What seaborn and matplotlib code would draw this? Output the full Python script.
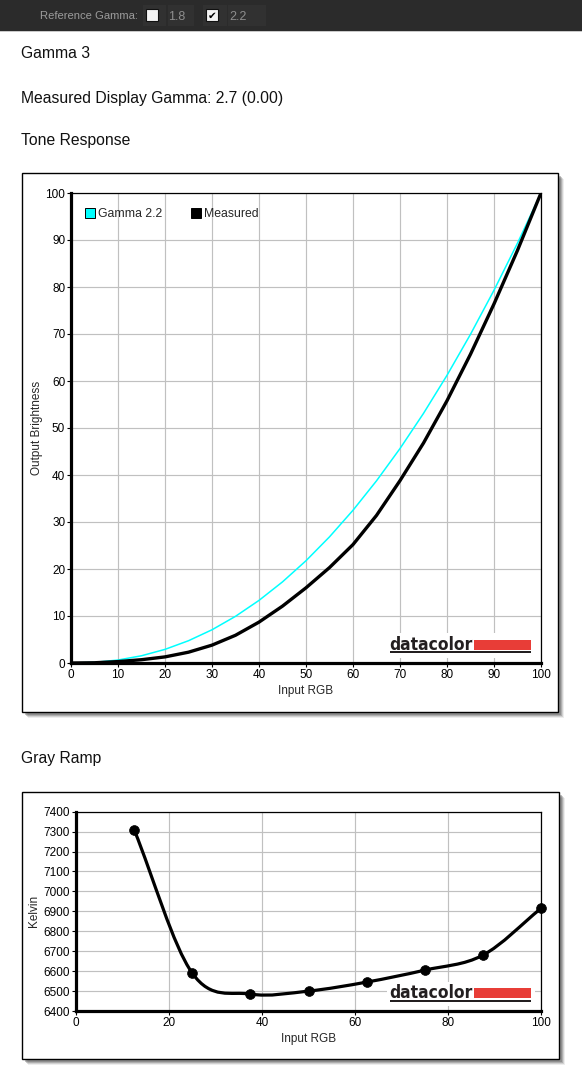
import numpy as np
import pandas as pd
import matplotlib
matplotlib.use("Agg")
import matplotlib.pyplot as plt
import seaborn as sns
from matplotlib.patches import Rectangle, PathPatch
from matplotlib.path import Path
from matplotlib.lines import Line2D

# ---------------- data ----------------
input_rgb = [0, 5, 10, 15, 20, 25, 30, 35, 40, 45, 50, 55, 60, 65, 70, 75, 80, 85, 90, 95, 100]
gamma22 = [0.0, 0.14, 0.63, 1.54, 2.90, 4.74, 7.07, 9.93, 13.32, 17.26, 21.76,
           26.84, 32.50, 38.76, 45.63, 53.11, 61.21, 69.94, 79.31, 89.33, 100.0]
measured = [0.0, 0.05, 0.3, 0.7, 1.3, 2.3, 3.8, 5.9, 8.7, 12.1, 16.0,
            20.3, 25.2, 31.4, 38.8, 46.8, 55.8, 65.7, 76.4, 87.8, 100.0]
ramp_rgb = [12.5, 25, 37.5, 50, 62.5, 75, 87.5, 100]
ramp_kelvin = [7310, 6590, 6485, 6500, 6545, 6605, 6680, 6915]
tone_ticks = list(range(0, 101, 10))
ramp_xticks = [0, 20, 40, 60, 80, 100]
ramp_yticks = list(range(6400, 7401, 100))
series_names = ["Gamma 2.2", "Measured"]
series_colors = ["#00ffff", "#000000"]

# ---------------- setup ----------------
W, H = 582, 1078
sns.set_theme(style="white")
plt.rcParams['font.family'] = ['Liberation Sans', 'DejaVu Sans']
fig = plt.figure(figsize=(W / 100, H / 100), dpi=100)
fig.patch.set_facecolor('white')


def frect(x0, y0, x1, y1, target=None, **kw):
    r = Rectangle((x0 / W, 1 - y1 / H), (x1 - x0) / W, (y1 - y0) / H,
                  transform=fig.transFigure, **kw)
    if target is None:
        fig.add_artist(r)
    else:
        r.set_clip_on(False)
        target.add_artist(r)
    return r


def ftext(x, y, s, target=None, **kw):
    if target is None:
        return fig.text(x / W, 1 - y / H, s, **kw)
    return target.text(x / W, 1 - y / H, s, transform=fig.transFigure, clip_on=False, **kw)


# top bar
frect(0, 0, W, 30.5, fc='#2b2b2b', ec='none', zorder=-5)
frect(0, 30.5, W, 32, fc='#c9c9c9', ec='none', zorder=-5)
for (a, b) in [(143, 166), (168, 194), (203, 227), (228, 266)]:
    frect(a, 5, b, 26, fc='#313131', ec='none', zorder=-4)
ftext(40, 16, "Reference Gamma:", color='#9b9b9b', fontsize=8.1, va='center', ha='left')
frect(146, 9.5, 157.5, 21, fc='#f4f4f4', ec='#111111', lw=0.8, zorder=-3)
frect(206, 9.5, 217.5, 21, fc='#f4f4f4', ec='#111111', lw=0.8, zorder=-3)
ftext(211.8, 15.4, "\u2714", color='black', fontsize=7.5, va='center', ha='center',
      family=['DejaVu Sans'])
ftext(168, 16.8, "1.8", color='#8e8e8e', fontsize=9, va='center', ha='left')
ftext(229, 16.8, "2.2", color='#8e8e8e', fontsize=9, va='center', ha='left')

# titles
for y, s in [(58.5, "Gamma 3"), (102.5, "Measured Display Gamma: 2.7 (0.00)"),
             (144.5, "Tone Response"), (762.5, "Gray Ramp")]:
    ftext(21, y, s, color='#111111', fontsize=11.3, va='baseline', ha='left')


def frame(x0, y0, x1, y1):
    for off, al in [(6, 0.10), (5, 0.18), (4, 0.28), (3, 0.35)]:
        frect(x0 + off, y0 + off, x1 + off, y1 + off, fc='#555555', ec='none', alpha=al, zorder=-3)
    frect(x0, y0, x1, y1, fc='white', ec='black', lw=1.0, zorder=-2)


frame(21.5, 172.5, 558, 712)
frame(21.5, 791.5, 558.5, 1058.5)


def style_axes(ax):
    ax.set_facecolor('none')
    ax.set_axisbelow(True)
    ax.grid(True, color='#c0c0c0', lw=0.85)
    for s in ['left', 'bottom']:
        ax.spines[s].set_linewidth(2.3)
        ax.spines[s].set_color('black')
    for s in ['top', 'right']:
        ax.spines[s].set_linewidth(0.9)
        ax.spines[s].set_color('black')
    ax.tick_params(axis='both', which='both', bottom=True, left=True, direction='out',
                   length=3, width=0.8, color='black', pad=1.2, labelsize=8.5,
                   labelcolor='black')


def logo(ax, base_y):
    frect(387, base_y - 16.5, 534.5, base_y + 8, target=ax, fc='white', ec='none', zorder=1.2)
    ftext(389.5, base_y, "datacolor", target=ax, color='#231f20', fontsize=12.5,
          fontweight='bold', fontstretch='condensed', family=['DejaVu Sans'],
          va='baseline', ha='left', zorder=1.5)
    frect(474, base_y - 10, 531, base_y, target=ax, fc='#e83d37', ec='none', zorder=1.6)
    frect(390, base_y + 1.5, 531, base_y + 3.2, target=ax, fc='#231f20', ec='none', zorder=1.5)


# ---------------- Tone response ----------------
ax1 = fig.add_axes([71 / W, 1 - 663 / H, 470 / W, 470 / H])
style_axes(ax1)
tone_df = pd.DataFrame({"Input RGB": input_rgb, series_names[0]: gamma22, series_names[1]: measured})
sns.lineplot(data=tone_df, x="Input RGB", y=series_names[0], ax=ax1, color=series_colors[0],
             lw=1.1, zorder=3)
sns.lineplot(data=tone_df, x="Input RGB", y=series_names[1], ax=ax1, color=series_colors[1],
             lw=2.4, zorder=4)
ax1.set_xlim(0, 100)
ax1.set_ylim(0, 100)
ax1.set_xticks(tone_ticks)
ax1.set_yticks(tone_ticks)
ax1.set_xlabel("Input RGB", fontsize=8.5, labelpad=3)
ax1.set_ylabel("Output Brightness", fontsize=8.5, labelpad=1.5)
handles = [Line2D([], [], marker='s', ls='none', markerfacecolor=c, markeredgecolor='black',
                  markeredgewidth=0.7, markersize=6.5) for c in series_colors]
ax1.legend(handles, series_names, loc='upper left', bbox_to_anchor=(0.031, 0.968), ncol=2,
           frameon=False, fontsize=8.8, handlelength=0.7, handletextpad=0.35,
           columnspacing=2.35, borderpad=0, borderaxespad=0)
logo(ax1, 649.5)

# ---------------- Gray ramp ----------------
ax2 = fig.add_axes([76 / W, 1 - 1011 / H, 465 / W, 199.3 / H])
style_axes(ax2)


def smooth_path(xs, ys):
    n = len(xs)
    m = []
    for i in range(n):
        if i == 0:
            m.append((ys[1] - ys[0]) / (xs[1] - xs[0]))
        elif i == n - 1:
            m.append((ys[-1] - ys[-2]) / (xs[-1] - xs[-2]))
        else:
            m.append((ys[i + 1] - ys[i - 1]) / (xs[i + 1] - xs[i - 1]))
    verts = [(xs[0], ys[0])]
    codes = [Path.MOVETO]
    for i in range(n - 1):
        h = xs[i + 1] - xs[i]
        verts += [(xs[i] + h / 3, ys[i] + m[i] * h / 3),
                  (xs[i + 1] - h / 3, ys[i + 1] - m[i + 1] * h / 3),
                  (xs[i + 1], ys[i + 1])]
        codes += [Path.CURVE4] * 3
    return Path(verts, codes)


ax2.add_patch(PathPatch(smooth_path(ramp_rgb, ramp_kelvin), fill=False, ec='black', lw=2.3,
                        zorder=3, capstyle='round', joinstyle='round'))
ramp_df = pd.DataFrame({"Input RGB": ramp_rgb, "Kelvin": ramp_kelvin})
sns.scatterplot(data=ramp_df, x="Input RGB", y="Kelvin", ax=ax2, color='black', s=50,
                edgecolor='black', linewidth=0.5, zorder=5, clip_on=False)
ax2.set_xlim(0, 100)
ax2.set_ylim(6400, 7400)
ax2.set_xticks(ramp_xticks)
ax2.set_yticks(ramp_yticks)
ax2.set_xlabel("Input RGB", fontsize=8.5, labelpad=3)
ax2.set_ylabel("Kelvin", fontsize=8.5, labelpad=2.5)
logo(ax2, 998.3)

fig.savefig("out.png", dpi=100)
